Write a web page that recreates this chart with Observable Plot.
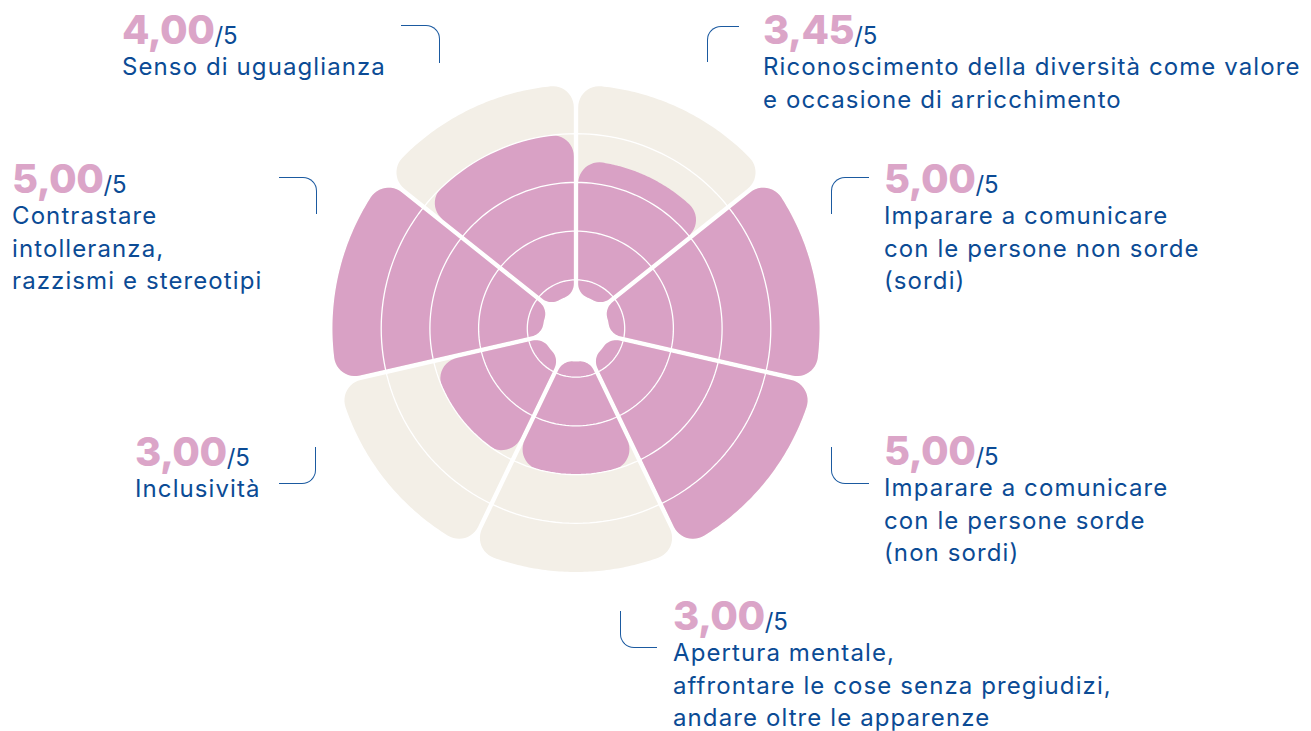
<!DOCTYPE html>
<html>
<head>
<meta charset="utf-8">
<script src="https://cdn.jsdelivr.net/npm/d3@7"></script>
<script src="https://cdn.jsdelivr.net/npm/@observablehq/plot@0.6"></script>
<style>
  html, body { margin: 0; padding: 0; background: #fff; }
  #wrap { position: relative; width: 1311px; height: 731px; overflow: hidden; font-family: Inter, "Noto Sans", sans-serif; }
  #wrap svg { position: absolute; left: 0; top: 0; }
  .lab { position: absolute; color: #0b4b95; white-space: nowrap; }
  .num { font-size: 40px; line-height: 43px; height: 43px; font-weight: 800; color: #dba5c8; letter-spacing: -0.5px; }
  .num span { font-size: 24px; font-weight: 400; color: #0b4b95; letter-spacing: 0; }
  .line { font-size: 24px; line-height: 32.5px; letter-spacing: 1.1px; }
  .br { position: absolute; box-sizing: border-box; border: 0 solid #1b5aa0; }
</style>
</head>
<body>
<div id="wrap"></div>
<script>
// ---- data ----
const categories = [
  ["Riconoscimento della diversità come valore", "e occasione di arricchimento"],
  ["Imparare a comunicare", "con le persone non sorde", "(sordi)"],
  ["Imparare a comunicare", "con le persone sorde", "(non sordi)"],
  ["Apertura mentale,", "affrontare le cose senza pregiudizi,", "andare oltre le apparenze"],
  ["Inclusività"],
  ["Contrastare", "intolleranza,", "razzismi e stereotipi"],
  ["Senso di uguaglianza"]
];
const values = [3.45, 5.00, 5.00, 3.00, 3.00, 5.00, 4.00];
const maxValue = 5;
const gridTicks = [1, 2, 3, 4];

// ---- layout (pixels) ----
const W = 1311, H = 731, cx = 575.5, cy = 328, k = 48.7;
const hole = 33 / k, outerCorner = 21 / k, innerCorner = 15 / k, gapHalf = 2.2 / k;

function sectorShape(i, v, id) {
  const n = values.length;
  const a0 = i * 2 * Math.PI / n, a1 = (i + 1) * 2 * Math.PI / n;
  const g = gapHalf;
  const dir = a => [Math.sin(a), Math.cos(a)];
  const perp = a => [Math.cos(a), -Math.sin(a)];
  function corner(a, sgn, Rc, c, outer) {
    const u = dir(a), p = perp(a).map(d => d * sgn);
    const dist = outer ? Rc - c : Rc + c;
    const t = Math.sqrt(Math.max(0, dist * dist - (g + c) * (g + c)));
    const C = [t * u[0] + (g + c) * p[0], t * u[1] + (g + c) * p[1]];
    const L = [t * u[0] + g * p[0], t * u[1] + g * p[1]];
    const A = [C[0] * Rc / dist, C[1] * Rc / dist];
    return {C, L, A, c};
  }
  function fillet(P, Q, C, c, out) {
    let fp = Math.atan2(P[1] - C[1], P[0] - C[0]);
    let fq = Math.atan2(Q[1] - C[1], Q[0] - C[0]);
    let d = fq - fp;
    while (d > Math.PI) d -= 2 * Math.PI;
    while (d < -Math.PI) d += 2 * Math.PI;
    const m = 12;
    for (let j = 0; j <= m; j++) {
      const f = fp + d * j / m;
      out.push([C[0] + c * Math.cos(f), C[1] + c * Math.sin(f)]);
    }
  }
  function arc(P, Q, R, out) {
    let tp = Math.atan2(P[0], P[1]);
    let tq = Math.atan2(Q[0], Q[1]);
    let d = tq - tp;
    while (d > Math.PI) d -= 2 * Math.PI;
    while (d < -Math.PI) d += 2 * Math.PI;
    const m = 60;
    for (let j = 0; j <= m; j++) {
      const t = tp + d * j / m;
      out.push([R * Math.sin(t), R * Math.cos(t)]);
    }
  }
  const Oa = corner(a0, 1, v, outerCorner, true);
  const Ob = corner(a1, -1, v, outerCorner, true);
  const Ia = corner(a0, 1, hole, innerCorner, false);
  const Ib = corner(a1, -1, hole, innerCorner, false);
  const pts = [];
  pts.push(Ia.L);
  fillet(Oa.L, Oa.A, Oa.C, Oa.c, pts);
  arc(Oa.A, Ob.A, v, pts);
  fillet(Ob.A, Ob.L, Ob.C, Ob.c, pts);
  fillet(Ib.L, Ib.A, Ib.C, Ib.c, pts);
  arc(Ib.A, Ia.A, hole, pts);
  fillet(Ia.A, Ia.L, Ia.C, Ia.c, pts);
  return pts.map(([x, y]) => ({id, x, y}));
}

const backRows = values.flatMap((v, i) => sectorShape(i, maxValue, "b" + i));
const barRows = values.flatMap((v, i) => sectorShape(i, v, "v" + i));
const gridRows = gridTicks.flatMap(t => d3.range(0, 361, 2).map(a => ({
  tick: t, x: t * Math.sin(a * Math.PI / 180), y: t * Math.cos(a * Math.PI / 180)
})));

const chart = Plot.plot({
  width: W, height: H,
  marginTop: 0, marginRight: 0, marginBottom: 0, marginLeft: 0,
  style: {background: "transparent"},
  x: {domain: [-cx / k, (W - cx) / k], axis: null},
  y: {domain: [-(H - cy) / k, cy / k], axis: null},
  marks: [
    Plot.line(backRows, {x: "x", y: "y", z: "id", fill: "#f3efe7", stroke: "none", curve: "linear"}),
    Plot.line(barRows, {x: "x", y: "y", z: "id", fill: "#d9a1c5", stroke: "none", curve: "linear"}),
    Plot.line(gridRows, {x: "x", y: "y", z: "tick", stroke: "#ffffff", strokeWidth: 1.3, curve: "linear"})
  ]
});
const wrap = document.getElementById("wrap");
wrap.appendChild(chart);

// ---- annotation layout ----
const labelPos = [
  {left: 763, top: 8},
  {left: 884, top: 157},
  {left: 884, top: 429},
  {left: 673, top: 594},
  {left: 135, top: 430},
  {left: 12, top: 157},
  {left: 122, top: 8}
];
const brackets = [
  {left: 707, top: 26, w: 32, h: 36, c: "tl"},
  {left: 831, top: 177, w: 38, h: 37, c: "tl"},
  {left: 831, top: 447, w: 38, h: 37, c: "bl"},
  {left: 620, top: 611, w: 37, h: 37, c: "bl"},
  {left: 279, top: 447, w: 37, h: 37, c: "br"},
  {left: 279, top: 177, w: 38, h: 37, c: "tr"},
  {left: 401, top: 25, w: 39, h: 38, c: "tr"}
];
const fmt = v => v.toFixed(2).replace(".", ",");
values.forEach((v, i) => {
  const d = document.createElement("div");
  d.className = "lab";
  d.style.left = labelPos[i].left + "px";
  d.style.top = labelPos[i].top + "px";
  const nd = document.createElement("div");
  nd.className = "num";
  nd.textContent = fmt(v);
  const s = document.createElement("span");
  s.textContent = "/" + maxValue;
  nd.appendChild(s);
  d.appendChild(nd);
  categories[i].forEach(t => {
    const l = document.createElement("div");
    l.className = "line";
    l.textContent = t;
    d.appendChild(l);
  });
  wrap.appendChild(d);

  const b = brackets[i];
  const e = document.createElement("div");
  e.className = "br";
  Object.assign(e.style, {left: b.left + "px", top: b.top + "px", width: b.w + "px", height: b.h + "px"});
  const bw = "1.5px";
  if (b.c[0] === "t") e.style.borderTopWidth = bw; else e.style.borderBottomWidth = bw;
  if (b.c[1] === "l") e.style.borderLeftWidth = bw; else e.style.borderRightWidth = bw;
  const rad = "14px";
  const key = {tl: "borderTopLeftRadius", tr: "borderTopRightRadius", bl: "borderBottomLeftRadius", br: "borderBottomRightRadius"}[b.c];
  e.style[key] = rad;
  wrap.appendChild(e);
});
</script>
</body>
</html>
